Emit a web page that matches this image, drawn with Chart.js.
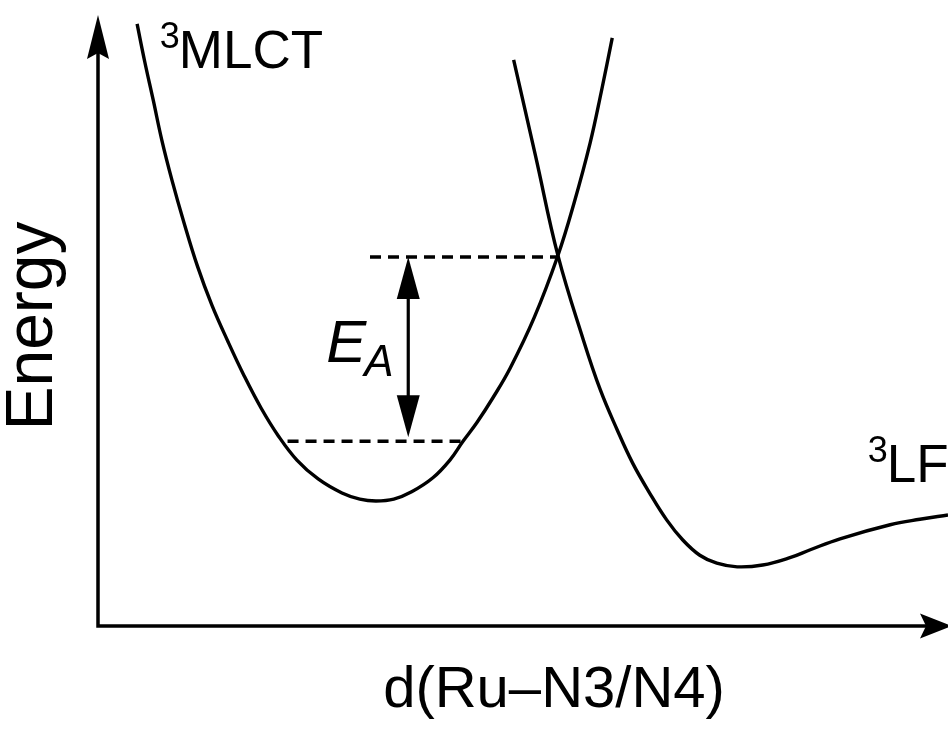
<!DOCTYPE html>
<html><head><meta charset="utf-8">
<script src="https://cdn.jsdelivr.net/npm/chart.js@4/dist/chart.umd.min.js"></script>
<style>html,body{margin:0;padding:0;background:#fff;}#wrap{width:948px;height:731px;}</style>
</head><body><div id="wrap"><canvas id="c" width="948" height="731"></canvas></div>
<script>
// Reaction coordinate (arbitrary units) and energies (arbitrary units)
const mlctX = [0.46, 0.55, 0.65, 0.75, 0.87, 1.01, 1.17, 1.34, 1.53, 1.72, 1.92, 2.12, 2.34, 2.59, 2.87, 3.08, 3.27, 3.48, 3.69, 3.94, 4.14, 4.29, 4.46, 4.65, 4.85, 5.13, 5.41, 5.60, 5.79, 5.92, 6.05];
const mlctY = [9.87, 9.25, 8.62, 7.97, 7.31, 6.62, 5.90, 5.26, 4.66, 4.10, 3.57, 3.12, 2.72, 2.41, 2.18, 2.08, 2.05, 2.08, 2.20, 2.43, 2.72, 3.02, 3.34, 3.75, 4.23, 5.05, 6.07, 6.93, 7.92, 8.75, 9.64];
const lfX = [4.89, 5.15, 5.41, 5.71, 5.91, 6.11, 6.29, 6.49, 6.69, 6.88, 7.08, 7.28, 7.52, 7.82, 8.14, 8.38, 8.73, 9.32, 9.67, 10.0];
const lfY = [9.28, 7.69, 6.08, 4.69, 3.87, 3.21, 2.67, 2.18, 1.74, 1.41, 1.16, 1.03, 0.97, 1.00, 1.12, 1.25, 1.43, 1.66, 1.75, 1.82];
const eaLevels = [3.03, 6.05];          // lower level, crossing level
const eaLowerSpan = [2.23, 4.29];
const eaUpperSpan = [3.20, 5.41];
const eaArrowX = 3.65;
const stateLabels = [{sup:'3', text:'MLCT', x:0.95, y:9.14}, {sup:'3', text:'LF', x:9.28, y:2.36}];
const xTitle = 'd(Ru\u2013N3/N4)';
const yTitle = 'Energy';

const pts = (xs, ys) => xs.map((x, i) => ({x, y: ys[i]}));
const INK = '#000';

const decor = {
  id: 'decor',
  afterDatasetsDraw(chart) {
    const {ctx, chartArea: a, scales: {x, y}} = chart;
    ctx.save();
    ctx.fillStyle = INK; ctx.strokeStyle = INK;
    // axes
    ctx.lineWidth = 3.5; ctx.lineCap = 'butt'; ctx.lineJoin = 'miter';
    ctx.beginPath();
    ctx.moveTo(a.left, a.top + 30); ctx.lineTo(a.left, a.bottom); ctx.lineTo(a.right - 20, a.bottom);
    ctx.stroke();
    // y arrow
    ctx.beginPath();
    ctx.moveTo(a.left, a.top - 1); ctx.lineTo(a.left - 11, a.top + 43); ctx.lineTo(a.left, a.top + 37); ctx.lineTo(a.left + 11, a.top + 43); ctx.closePath(); ctx.fill();
    // x arrow
    ctx.beginPath();
    ctx.moveTo(a.right + 4, a.bottom); ctx.lineTo(a.right - 28, a.bottom - 12.5); ctx.lineTo(a.right - 22, a.bottom); ctx.lineTo(a.right - 28, a.bottom + 12.5); ctx.closePath(); ctx.fill();
    // E_A double arrow heads
    const ax = x.getPixelForValue(eaArrowX);
    const yTop = y.getPixelForValue(eaLevels[1]);
    const yBot = y.getPixelForValue(eaLevels[0]);
    ctx.beginPath();
    ctx.moveTo(ax, yTop); ctx.lineTo(ax - 11.5, yTop + 42); ctx.lineTo(ax + 11.5, yTop + 42); ctx.closePath(); ctx.fill();
    ctx.beginPath();
    ctx.moveTo(ax, yBot - 4); ctx.lineTo(ax - 11.5, yBot - 46); ctx.lineTo(ax + 11.5, yBot - 46); ctx.closePath(); ctx.fill();
    // E_A label
    ctx.textBaseline = 'alphabetic'; ctx.textAlign = 'left';
    ctx.font = 'italic 60px "Liberation Sans", Arial, sans-serif';
    ctx.fillText('E', ax - 82, (yTop + yBot) / 2 + 13);
    ctx.font = 'italic 44px "Liberation Sans", Arial, sans-serif';
    ctx.fillText('A', ax - 44, (yTop + yBot) / 2 + 27);
    // state labels
    stateLabels.forEach(l => {
      const px = x.getPixelForValue(l.x), py = y.getPixelForValue(l.y);
      ctx.font = '36px "Liberation Sans", Arial, sans-serif';
      ctx.fillText(l.sup, px - 19, py - 20);
      ctx.font = '53px "Liberation Sans", Arial, sans-serif';
      ctx.fillText(l.text, px, py);
    });
    // axis titles
    ctx.font = '58px "Liberation Sans", Arial, sans-serif';
    ctx.textAlign = 'center';
    ctx.fillText(xTitle, (a.left + a.right) / 2 + 31, a.bottom + 81);
    ctx.save();
    ctx.translate(52, 326);
    ctx.rotate(-Math.PI / 2);
    ctx.font = '66px "Liberation Sans", Arial, sans-serif';
    ctx.fillText(yTitle, 0, 0);
    ctx.restore();
    ctx.restore();
  }
};

new Chart(document.getElementById('c'), {
  type: 'scatter',
  data: {
    datasets: [
      {data: pts(mlctX, mlctY), showLine: true, borderColor: INK, borderWidth: 3.4, tension: 0.4, pointRadius: 0},
      {data: pts(lfX, lfY), showLine: true, borderColor: INK, borderWidth: 3.4, tension: 0.4, pointRadius: 0},
      {data: pts(eaLowerSpan, [eaLevels[0], eaLevels[0]]), showLine: true, borderColor: INK, borderWidth: 3.5, borderDash: [11, 7], pointRadius: 0},
      {data: pts(eaUpperSpan, [eaLevels[1], eaLevels[1]]), showLine: true, borderColor: INK, borderWidth: 3.5, borderDash: [11, 7], pointRadius: 0},
      {data: pts([eaArrowX, eaArrowX], [eaLevels[0] + 0.4, eaLevels[1] - 0.4]), showLine: true, borderColor: INK, borderWidth: 3.2, pointRadius: 0}
    ]
  },
  options: {
    responsive: false, animation: false,
    layout: {padding: {left: 98, right: 0, top: 16, bottom: 105}},
    plugins: {legend: {display: false}, tooltip: {enabled: false}},
    scales: {
      x: {type: 'linear', min: 0, max: 10, display: false},
      y: {type: 'linear', min: 0, max: 10, display: false}
    },
    clip: false
  },
  plugins: [decor]
});
</script></body></html>
